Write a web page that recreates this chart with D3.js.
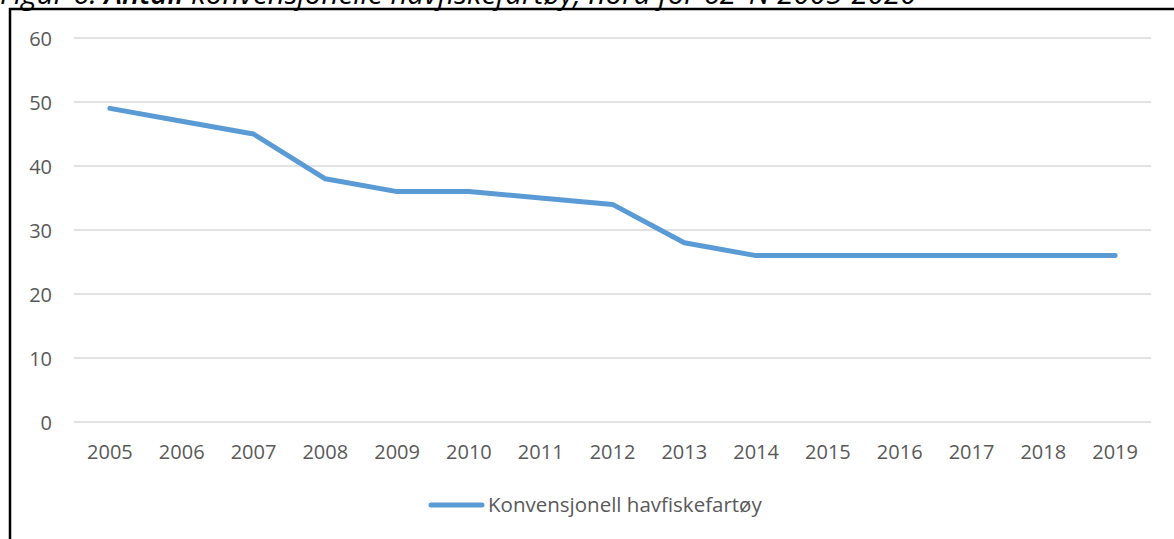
<!DOCTYPE html>
<html><head><meta charset="utf-8">
<script src="https://cdn.jsdelivr.net/npm/d3@7"></script>
<style>body{margin:0;background:#fff}svg{display:block}</style>
</head><body>
<script>
const years = ["2005","2006","2007","2008","2009","2010","2011","2012","2013","2014","2015","2016","2017","2018","2019"];
const values = [49,47,45,38,36,36,35,34,28,26,26,26,26,26,26];
const yTicks = [0,10,20,30,40,50,60];
const seriesName = "Konvensjonell havfiskefartøy";
const titleParts = ["Figur 6: ", "Antall", " konvensjonelle havfiskefartøy, nord for 62°N 2005-2020"];

const W=1174,H=539;
const svg=d3.select("body").append("svg").attr("width",W).attr("height",H);
const font="'Open Sans', 'Noto Sans', sans-serif";

// title (cut off at top as in the reference)
const t=svg.append("text").attr("x",0).attr("y",4).attr("font-family",font).attr("font-style","italic")
  .attr("font-size",29.5).attr("fill","#000");
t.selectAll("tspan").data(titleParts).join("tspan").attr("font-weight",(d,i)=>i===1?600:400).text(d=>d);
// frame
svg.append("line").attr("x1",9).attr("x2",W).attr("y1",9).attr("y2",9).attr("stroke","#000").attr("stroke-width",2.5);
svg.append("line").attr("x1",10).attr("x2",10).attr("y1",8).attr("y2",H).attr("stroke","#000").attr("stroke-width",2.5);

const x=d3.scaleBand().domain(years).range([74,1151]);
const y=d3.scaleLinear().domain([0,60]).range([422,38]);

const grid=svg.append("g");
grid.selectAll("line").data(yTicks).join("line")
  .attr("x1",74).attr("x2",1151).attr("y1",d=>y(d)).attr("y2",d=>y(d))
  .attr("stroke","#d9d9d9").attr("stroke-width",1.3);

const yAxis=svg.append("g").attr("transform","translate(74,0)")
  .call(d3.axisLeft(y).tickValues(yTicks).tickSize(0).tickPadding(22));
yAxis.select(".domain").remove();
yAxis.selectAll("text").attr("font-family",font).attr("font-size",20).attr("fill","#595959").attr("dy","0.35em");

const xAxis=svg.append("g").attr("transform","translate(0,422)")
  .call(d3.axisBottom(x).tickSize(0).tickPadding(23));
xAxis.select(".domain").remove();
xAxis.selectAll("text").attr("font-family",font).attr("font-size",20).attr("fill","#595959");

const line=d3.line().x((d,i)=>x(years[i])+x.bandwidth()/2).y(d=>y(d));
svg.append("path").datum(values).attr("d",line).attr("fill","none")
  .attr("stroke","#5B9BD5").attr("stroke-width",5).attr("stroke-linejoin","round").attr("stroke-linecap","round");

// legend
const lg=svg.append("g");
lg.append("line").attr("x1",431).attr("x2",482).attr("y1",505).attr("y2",505)
  .attr("stroke","#5B9BD5").attr("stroke-width",5).attr("stroke-linecap","round");
lg.append("text").attr("x",488).attr("y",505).attr("dy","0.35em").attr("font-family",font)
  .attr("font-size",20.5).attr("fill","#595959").text(seriesName);
</script>
</body></html>
